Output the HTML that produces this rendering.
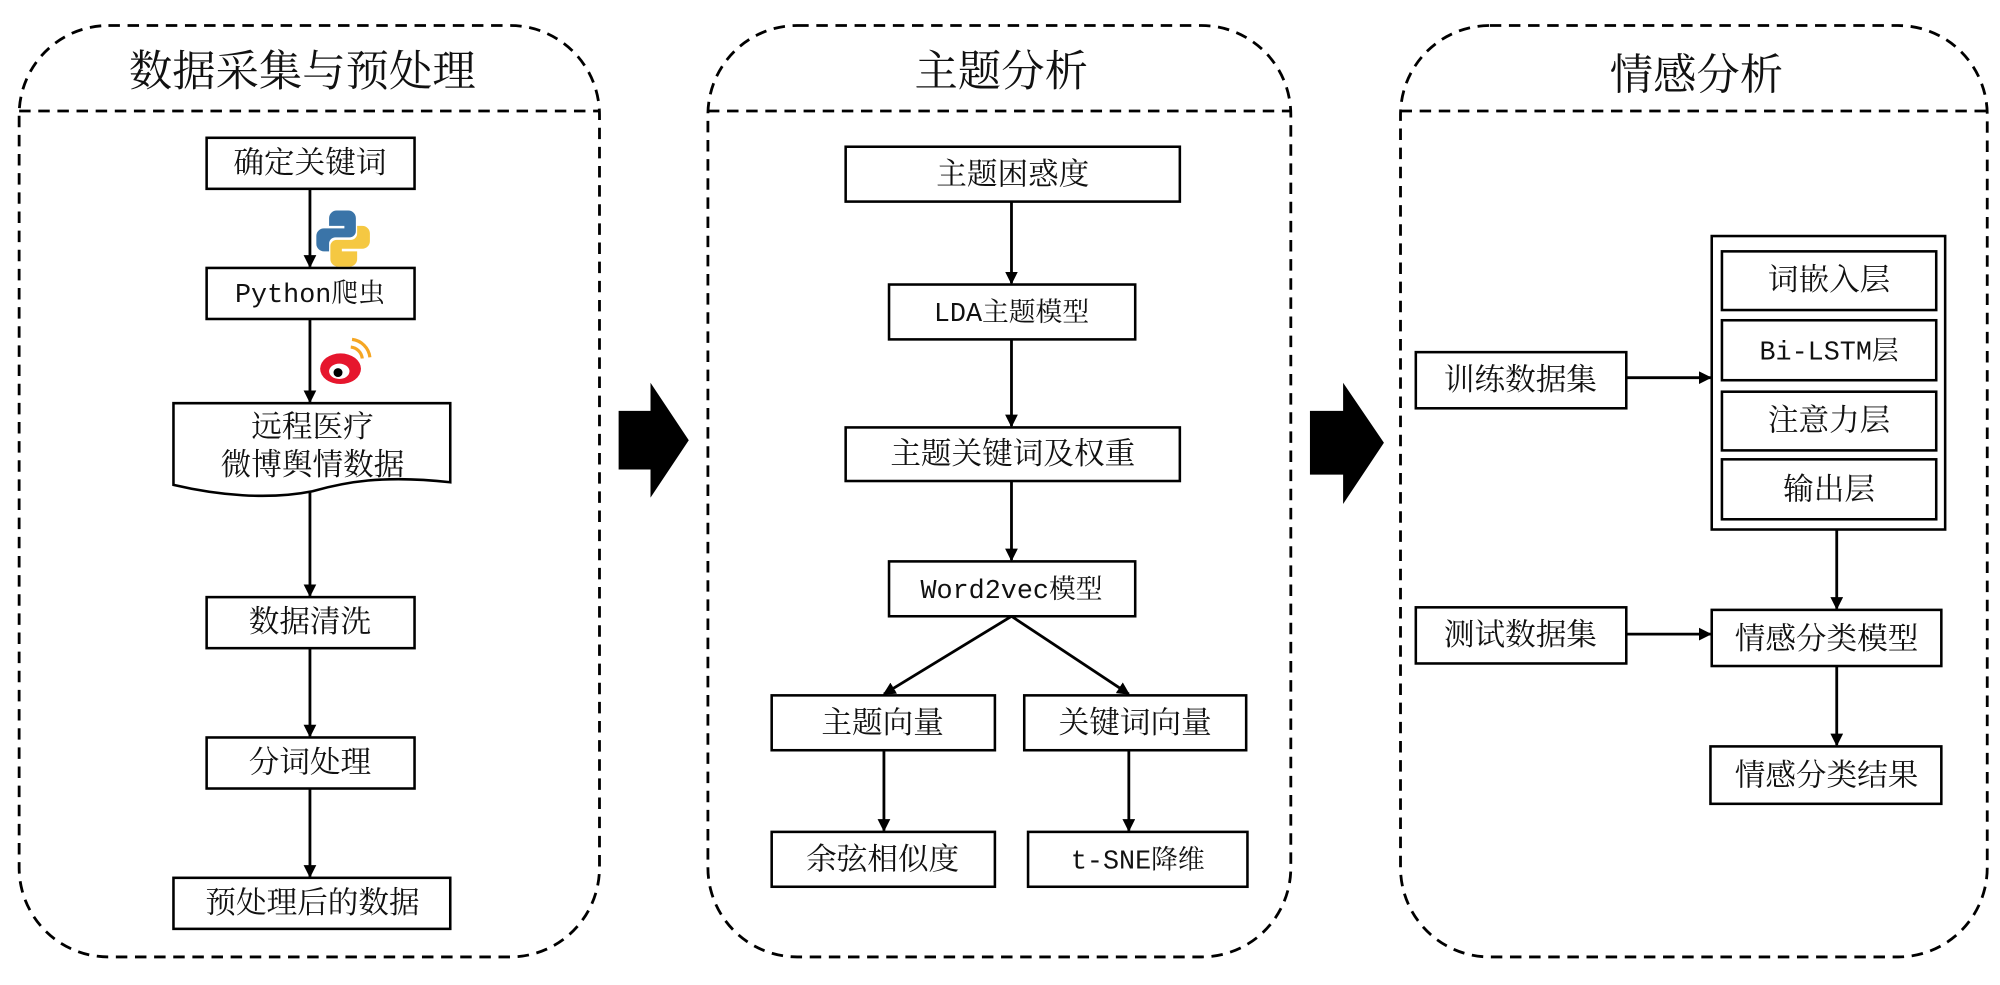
<!DOCTYPE html>
<html><head><meta charset="utf-8"><style>
html,body{margin:0;padding:0;background:#fff;}
svg{display:block;}
text{font-family:"Liberation Mono","Noto Serif CJK SC","Noto Sans CJK SC",serif;fill:#111;text-anchor:middle;dominant-baseline:central;}
.l{font-size:21px;}
</style></head><body>
<svg width="2000" height="985" viewBox="0 0 1568 772" preserveAspectRatio="none" xmlns="http://www.w3.org/2000/svg">
<defs>
<marker id="a" markerWidth="10" markerHeight="10" refX="9" refY="5" orient="auto" markerUnits="userSpaceOnUse"><path d="M0,0 L10,5 L0,10 z" fill="#000"/></marker>
</defs>
<g fill="none" stroke="#000" stroke-width="2.2" stroke-dasharray="9,6">
<rect x="15" y="20" width="455" height="730" rx="70"/>
<line x1="15" y1="87" x2="470" y2="87"/>
<rect x="555" y="20" width="457" height="730" rx="70"/>
<line x1="555" y1="87" x2="1012" y2="87"/>
<rect x="1098" y="20" width="460" height="730" rx="70"/>
<line x1="1098" y1="87" x2="1558" y2="87"/>
</g>
<g style="font-size:34px">
<text x="237" y="59">数据采集与预处理</text>
<text x="785" y="59">主题分析</text>
<text x="1330" y="62">情感分析</text>
</g>
<g fill="#fff" stroke="#000" stroke-width="2">
<rect x="162" y="108" width="163" height="40"/>
<rect x="162" y="210" width="163" height="40"/>
<path d="M136,316 H353 V378 C300,372 270,378 245,385 C210,392 170,388 136,380 Z"/>
<rect x="162" y="468" width="163" height="40"/>
<rect x="162" y="578" width="163" height="40"/>
<rect x="136" y="688" width="217" height="40"/>

<rect x="663" y="115" width="262" height="43"/>
<rect x="697" y="223" width="193" height="43"/>
<rect x="663" y="335" width="262" height="42"/>
<rect x="697" y="440" width="193" height="43"/>
<rect x="605" y="545" width="175" height="43"/>
<rect x="803" y="545" width="174" height="43"/>
<rect x="605" y="652" width="175" height="43"/>
<rect x="806" y="652" width="172" height="43"/>

<rect x="1342" y="185" width="183" height="230"/>
<rect x="1350" y="197" width="168" height="46"/>
<rect x="1350" y="251" width="168" height="47"/>
<rect x="1350" y="307" width="168" height="46"/>
<rect x="1350" y="360" width="168" height="47"/>
<rect x="1110" y="276" width="165" height="44"/>
<rect x="1110" y="476" width="165" height="44"/>
<rect x="1342" y="478" width="180" height="44"/>
<rect x="1341" y="585" width="181" height="45"/>
</g>
<g stroke="#000" stroke-width="2.2" marker-end="url(#a)">
<line x1="243" y1="148" x2="243" y2="209"/>
<line x1="243" y1="250" x2="243" y2="315"/>
<line x1="243" y1="386" x2="243" y2="467"/>
<line x1="243" y1="508" x2="243" y2="577"/>
<line x1="243" y1="618" x2="243" y2="687"/>
<line x1="793" y1="158" x2="793" y2="222"/>
<line x1="793" y1="266" x2="793" y2="334"/>
<line x1="793" y1="377" x2="793" y2="439"/>
<line x1="793" y1="483" x2="693" y2="544"/>
<line x1="793" y1="483" x2="885" y2="544"/>
<line x1="693" y1="588" x2="693" y2="651"/>
<line x1="885" y1="588" x2="885" y2="651"/>
<line x1="1275" y1="296" x2="1341" y2="296"/>
<line x1="1275" y1="497" x2="1341" y2="497"/>
<line x1="1440" y1="415" x2="1440" y2="477"/>
<line x1="1440" y1="522" x2="1440" y2="584"/>
</g>
<path d="M485,322 H510 V300 L540,345 L510,390 V368 H485 Z" fill="#000"/>
<path d="M1027,322 H1053 V300 L1085,347 L1053,395 V372 H1027 Z" fill="#000"/>
<g>
<path d="M270,165 h-6 a6,6 0 0 0 -6,6 v6 h12 v2 h-16 a6,6 0 0 0 -6,6 v6 a6,6 0 0 0 6,6 h4 v-6 a5,5 0 0 1 5,-5 h11 a5,5 0 0 0 5,-5 v-10 a6,6 0 0 0 -6,-6 z" fill="#3a74a8"/>
<path d="M268,209 h6 a6,6 0 0 0 6,-6 v-6 h-12 v-2 h16 a6,6 0 0 0 6,-6 v-6 a6,6 0 0 0 -6,-6 h-4 v6 a5,5 0 0 1 -5,5 h-11 a5,5 0 0 0 -5,5 v10 a6,6 0 0 0 6,6 z" fill="#f5c842"/>
</g>
<g>
<ellipse cx="267" cy="289" rx="16" ry="12" fill="#e6162d"/>
<ellipse cx="266" cy="291" rx="8" ry="6" fill="#fff"/>
<circle cx="265" cy="292" r="3.5" fill="#000"/>
<path d="M275,272 a10,10 0 0 1 9,9" stroke="#f5a623" stroke-width="2.5" fill="none"/>
<path d="M276,266 a16,16 0 0 1 14,14" stroke="#f5a623" stroke-width="2.5" fill="none"/>
</g>
<g style="font-size:24px">
<text x="243" y="130">确定关键词</text>
<text x="243" y="232" class="l">Python爬虫</text>
<text x="245" y="337">远程医疗</text>
<text x="245" y="367">微博舆情数据</text>
<text x="243" y="490">数据清洗</text>
<text x="243" y="600">分词处理</text>
<text x="245" y="710">预处理后的数据</text>
<text x="794" y="139">主题困惑度</text>
<text x="793" y="247" class="l">LDA主题模型</text>
<text x="794" y="358">主题关键词及权重</text>
<text x="793" y="464" class="l">Word2vec模型</text>
<text x="692" y="569">主题向量</text>
<text x="890" y="569">关键词向量</text>
<text x="692" y="676">余弦相似度</text>
<text x="892" y="676" class="l">t-SNE降维</text>
<text x="1434" y="222">词嵌入层</text>
<text x="1434" y="277" class="l">Bi-LSTM层</text>
<text x="1434" y="332">注意力层</text>
<text x="1434" y="386">输出层</text>
<text x="1192" y="300">训练数据集</text>
<text x="1192" y="500">测试数据集</text>
<text x="1432" y="503">情感分类模型</text>
<text x="1432" y="610">情感分类结果</text>
</g>
</svg>
</body></html>
